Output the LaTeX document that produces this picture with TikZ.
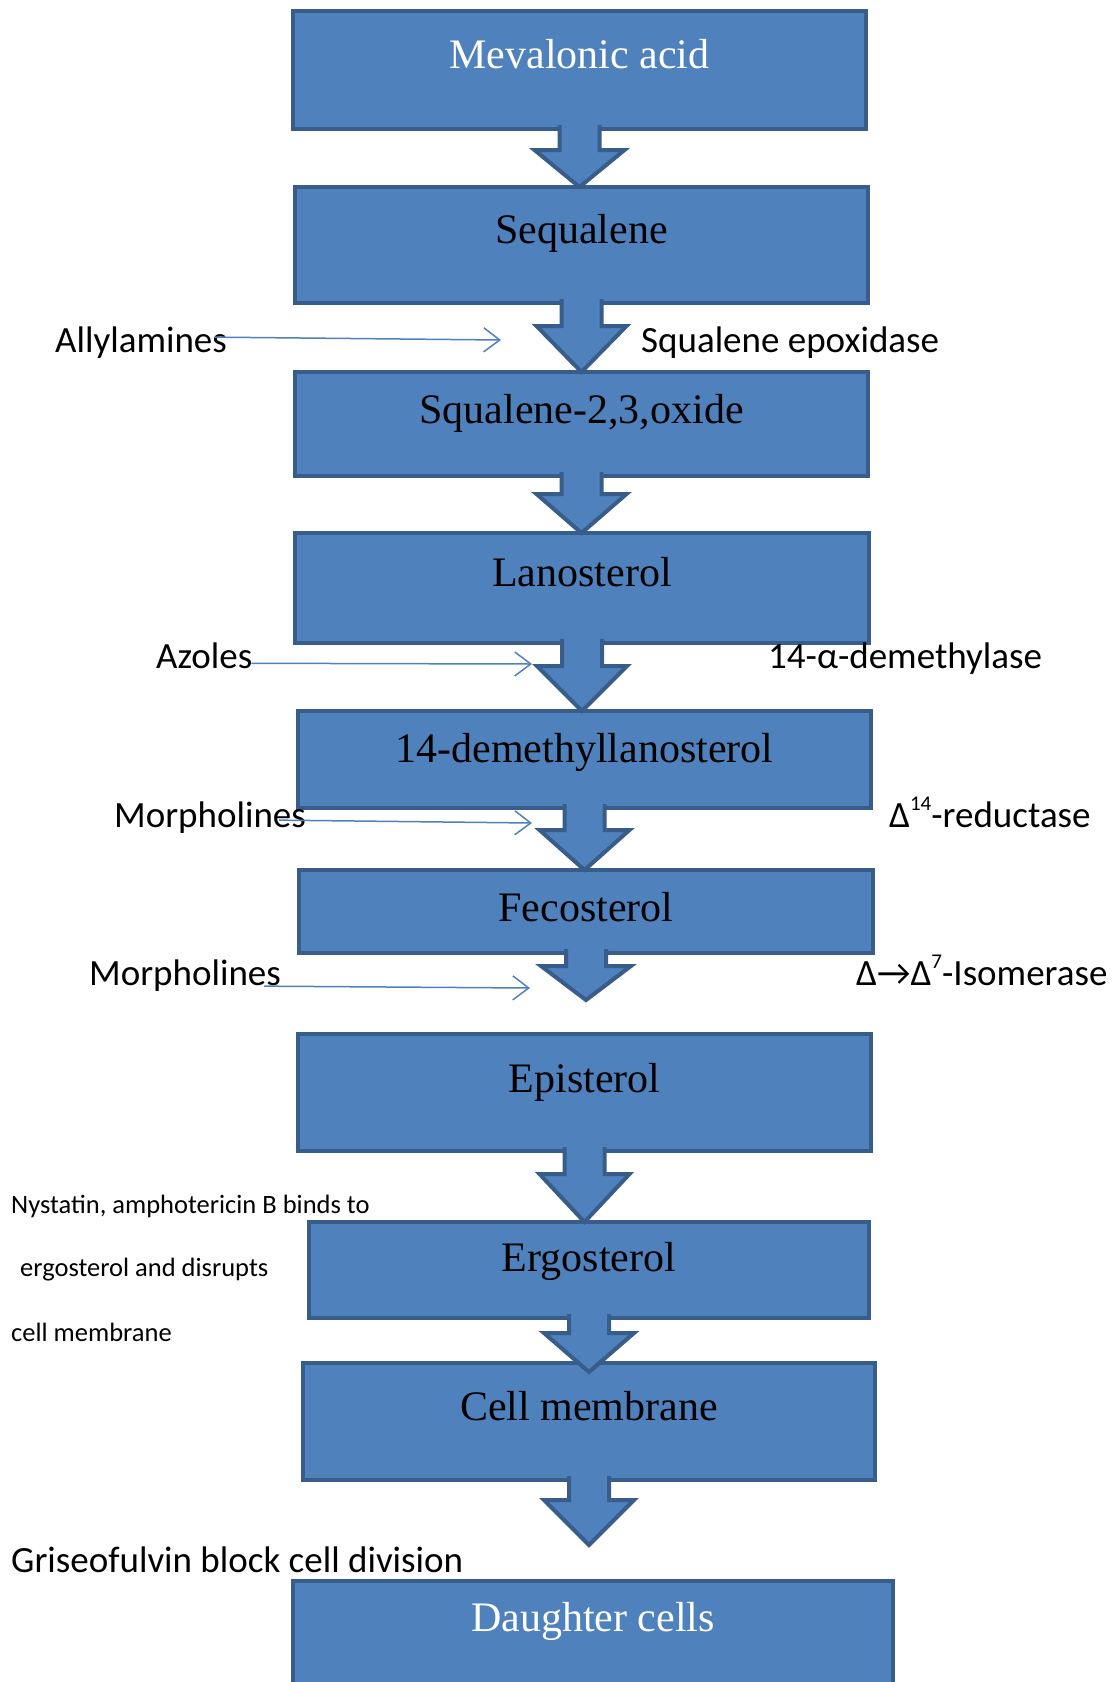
\documentclass[tikz,border=0pt]{standalone}
\usepackage{fontspec}
\setmainfont{Liberation Serif}
\newfontfamily\labelfont{Carlito}
\usetikzlibrary{calc,arrows.meta}

\definecolor{boxfill}{HTML}{4F81BD}
\definecolor{boxline}{HTML}{385D8A}

\tikzset{
  stepbox/.style={draw=boxline, fill=boxfill, line width=4pt, anchor=base,
    inner sep=0pt, outer sep=0pt, minimum width=573pt,
    font=\fontsize{42}{48}\selectfont},
  fatarrow/.style={draw=boxline, fill=boxfill, line width=4pt},
  drug/.style={anchor=base west, inner sep=0pt,
    font=\labelfont\fontsize{37}{44}\selectfont},
  note/.style={anchor=base west, inner sep=0pt,
    font=\labelfont\fontsize{26.5}{32}\selectfont},
  inhibit/.style={draw=boxfill, line width=1.5pt,
    -{Straight Barb[length=16pt,width=24pt]}},
}

% block arrow: from box #1 down to point #2, head length #3
\newcommand{\blockarrow}[3]{%
  \path (#2) coordinate (tip);
  \draw[fatarrow] ($(#1.south)+(-20,-4)$) -- ($(#1.south |- tip)+(-20,-#3)$)
    -- ($(#1.south |- tip)+(-45,-#3)$) -- (#1.south |- tip)
    -- ($(#1.south |- tip)+(45,-#3)$) -- ($(#1.south |- tip)+(20,-#3)$)
    -- ($(#1.south)+(20,-4)$);
}
% raised small index
\newcommand{\upidx}[1]{\raisebox{17pt}{\fontsize{21}{21}\selectfont #1}}

\begin{document}
\begin{tikzpicture}[x=1pt, y=-1pt]
    \useasboundingbox (0,0) rectangle (1116,1682);
    \fill[white] (0,0) rectangle (1116,1682);

    % pathway boxes
    \node (mev) [stepbox, text=white, text height=57pt, text depth=61pt] at (579.5,68) {Mevalonic acid};
    \node (seq) [stepbox, text height=56pt, text depth=60pt] at (581.5,243) {Sequalene};
    \node (sqox) [stepbox, text height=51pt, text depth=53pt] at (581.5,423) {Squalene-2,3,oxide};
    \node (lano) [stepbox, minimum width=574pt, text height=53pt, text depth=57pt] at (582,586) {Lanosterol};
    \node (demeth) [stepbox, text height=51pt, text depth=46pt] at (584.5,762) {14-demethyllanosterol};
    \node (feco) [stepbox, minimum width=574pt, text height=51pt, text depth=32pt] at (586,921) {Fecosterol};
    \node (epi) [stepbox, text height=58pt, text depth=59pt] at (584.5,1092) {Episterol};
    \node (ergo) [stepbox, minimum width=560pt, text height=49pt, text depth=47pt] at (589,1271) {Ergosterol};
    \node (cell) [stepbox, minimum width=572pt, text height=57pt, text depth=60pt] at (589,1420) {Cell membrane};
    \node (dau) [stepbox, minimum width=600pt, text=white, text height=50pt, text depth=100pt] at (593,1631) {Daughter cells};

    % arrow ends that stop short of a box
    \coordinate (epitip) at ([yshift=-47pt]feco.south);
    \coordinate (celltip) at ([yshift=-9pt]cell.north);
    \coordinate (dautip) at ([yshift=-65pt]cell.south);

    \blockarrow{mev}{seq.north}{37}
    \blockarrow{seq}{sqox.north}{46}
    \blockarrow{sqox}{lano.north}{39}
    \blockarrow{lano}{demeth.north}{45}
    \blockarrow{demeth}{feco.north}{40}
    \blockarrow{feco}{epitip}{34}
    \blockarrow{epi}{ergo.north}{48}
    \blockarrow{ergo}{celltip}{39}
    \blockarrow{cell}{dautip}{45}

    % drugs and enzymes
    \node (allyl) [drug] at (55,352) {Allylamines};
    \node (sqep) [drug] at (641,352) {Squalene epoxidase};
    \node (azol) [drug] at (156,668) {Azoles};
    \node (demase) [drug] at (768,668) {14-α-demethylase};
    \node (morphA) [drug] at (114,827) {Morpholines};
    \node (reduct) [drug] at (889,827) {Δ\upidx{14}-reductase};
    \node (morphB) [drug] at (89,985) {Morpholines};
    \node (isom) [drug] at (856,985) {Δ→Δ\upidx{7}-Isomerase};

    \node (nystA) [note] at (11,1213) {Nystatin, amphotericin B binds to};
    \node (nystB) [note] at (20,1276) {ergosterol and disrupts};
    \node (nystC) [note] at (11,1341) {cell membrane};

    \node (gris) [drug] at (11,1572) {Griseofulvin block cell division};

    % where the drugs act
    \coordinate (allylhit) at (501,340);
    \coordinate (azolhit) at (532,664);
    \coordinate (morphhitA) at (532,823);
    \coordinate (morphhitB) at (530,988);

    \draw[inhibit] ([xshift=-12pt,yshift=5pt]allyl.east) -- (allylhit);
    \draw[inhibit] ([xshift=-1pt,yshift=-8pt]azol.east) -- (azolhit);
    \draw[inhibit] ([xshift=-27pt,yshift=-3pt]morphA.east) -- (morphhitA);
    \draw[inhibit] ([xshift=-17pt,yshift=-11pt]morphB.east) -- (morphhitB);
\end{tikzpicture}
\end{document}
